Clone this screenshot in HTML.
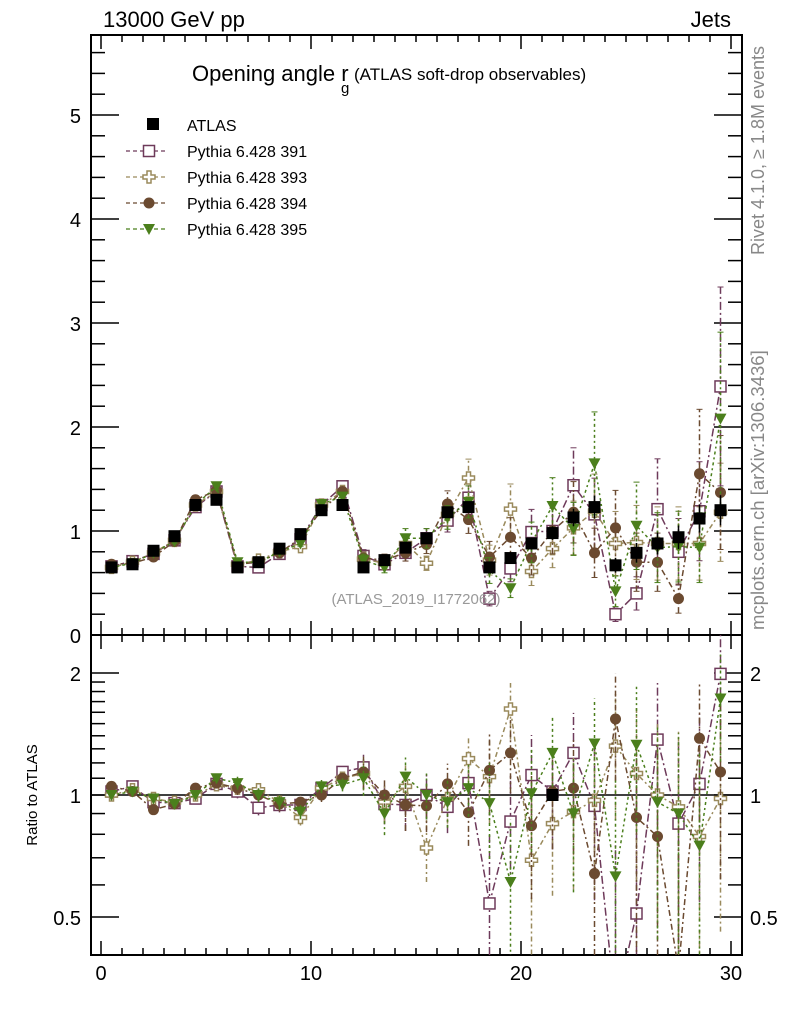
<!DOCTYPE html>
<html><head><meta charset="utf-8"><style>
html,body{margin:0;padding:0;background:#fff;width:786px;height:1024px;overflow:hidden;font-family:"Liberation Sans",sans-serif}
svg{display:block}
svg text{font-family:"Liberation Sans","DejaVu Sans",sans-serif}
</style></head><body>
<svg id="c" width="786" height="1024" xmlns="http://www.w3.org/2000/svg"></svg>
<script>
const bins=[0.5,1.5,2.5,3.5,4.5,5.5,6.5,7.5,8.5,9.5,10.5,11.5,12.5,13.5,14.5,15.5,16.5,17.5,18.5,19.5,20.5,21.5,22.5,23.5,24.5,25.5,26.5,27.5,28.5,29.5];
const atlas=[0.65,0.68,0.81,0.95,1.25,1.3,0.65,0.7,0.83,0.97,1.2,1.25,0.65,0.72,0.84,0.93,1.18,1.23,0.65,0.74,0.88,0.98,1.13,1.23,0.67,0.79,0.88,0.94,1.12,1.2];
const p391=[0.66,0.71,0.78,0.91,1.23,1.38,0.66,0.65,0.78,0.92,1.25,1.43,0.76,0.68,0.79,0.93,1.10,1.32,0.35,0.64,0.99,1.0,1.44,1.16,0.2,0.40,1.21,0.80,1.19,2.39];
const p393=[0.65,0.70,0.79,0.91,1.25,1.38,0.68,0.72,0.80,0.85,1.25,1.38,0.73,0.69,0.88,0.69,1.16,1.51,0.72,1.21,0.61,0.83,1.03,1.19,0.88,0.89,0.88,0.88,0.88,1.18];
const p394=[0.68,0.69,0.75,0.90,1.30,1.39,0.68,0.70,0.79,0.93,1.20,1.38,0.74,0.72,0.79,0.87,1.26,1.11,0.75,0.94,0.74,1.0,1.18,0.79,1.03,0.70,0.70,0.35,1.55,1.37];
const p395=[0.65,0.69,0.79,0.90,1.25,1.43,0.70,0.70,0.80,0.88,1.26,1.33,0.72,0.65,0.93,0.93,1.13,1.28,0.62,0.45,0.89,1.24,1.02,1.65,0.42,1.05,0.84,0.85,0.84,2.08];
const r391=[1.02,1.05,0.96,0.955,0.98,1.065,1.02,0.93,0.945,0.945,1.04,1.14,1.17,0.95,0.945,1.0,0.935,1.07,0.54,0.86,1.12,1.02,1.27,0.94,0.3,0.51,1.37,0.85,1.065,1.99];
const r393=[1.0,1.03,0.98,0.96,1.0,1.06,1.04,1.03,0.96,0.88,1.04,1.1,1.13,0.96,1.05,0.74,0.98,1.23,1.11,1.63,0.69,0.85,0.91,0.97,1.32,1.13,1.0,0.935,0.79,0.98];
const r394=[1.05,1.02,0.92,0.95,1.04,1.07,1.04,1.0,0.95,0.96,1.0,1.1,1.14,1.0,0.945,0.94,1.065,0.905,1.15,1.27,0.84,1.02,1.04,0.64,1.54,0.88,0.79,0.37,1.38,1.14];
const r395=[1.0,1.02,0.98,0.95,1.0,1.1,1.07,1.0,0.96,0.91,1.05,1.06,1.1,0.9,1.11,1.0,0.96,1.04,0.955,0.61,1.01,1.27,0.9,1.34,0.63,1.33,0.96,0.9,0.75,1.73];
const relErr=[0.02,0.02,0.02,0.02,0.02,0.02,0.03,0.03,0.03,0.03,0.03,0.03,0.08,0.08,0.1,0.1,0.1,0.12,0.2,0.2,0.22,0.22,0.25,0.3,0.35,0.4,0.4,0.4,0.4,0.4];
const xTicks=[0,10,20,30];
const yTicks=[0,1,2,3,4,5];
const rTicks=[0.5,1,2];

const svg=document.getElementById('c');
const NS='http://www.w3.org/2000/svg';
const L=91,R=742,T=35,M=635,B=955;
const X=v=>101+v*21;
const Y=v=>M-104*v;
const RY=r=>795-122*Math.log2(r);
function el(tag,a,parent){const e=document.createElementNS(NS,tag);for(const k in a)e.setAttribute(k,a[k]);(parent||svg).appendChild(e);return e;}
function txt(s,a,p){const e=el('text',a,p);e.textContent=s;return e;}

const defs=el('defs',{});
const c1=el('clipPath',{id:'cm'},defs);el('rect',{x:L,y:T,width:R-L,height:M-T},c1);
const c2=el('clipPath',{id:'cr'},defs);el('rect',{x:L,y:M,width:R-L,height:B-M},c2);

const f1=el('rect',{x:L,y:T,width:R-L,height:M-T,fill:'none',stroke:'#000','stroke-width':2});


const f2=el('rect',{x:L,y:M,width:R-L,height:B-M,fill:'none',stroke:'#000','stroke-width':2});



for(let v=0;v<=30;v++){const big=v%10==0,h=big?14:7;const x=X(v);
 for(const [y0,dir] of [[M,-1],[B,-1],[T,1],[M,1]]){el('line',{x1:x,x2:x,y1:y0,y2:y0+dir*h,stroke:'#000','stroke-width':1.5});}
}
xTicks.forEach(v=>{const t=txt(v,{x:X(v),y:980,'font-size':20,'text-anchor':'middle'});
 
 });
for(let i=0;i<=28;i++){const v=i*0.2;const big=i%5==0,h=big?28:14;const y=Y(v);if(y<T)continue;
 el('line',{x1:L,x2:L+h,y1:y,y2:y,stroke:'#000','stroke-width':1.5});el('line',{x1:R,x2:R-h,y1:y,y2:y,stroke:'#000','stroke-width':1.5});}
yTicks.forEach(v=>{const t=txt(v,{x:81,y:Y(v)+8,'font-size':20,'text-anchor':'end'});
 
 });
[0.5,0.6,0.7,0.8,0.9,1,1.1,1.2,1.3,1.4,1.5,1.6,1.7,1.8,1.9,2].forEach(r=>{const big=rTicks.includes(r),h=big?28:14;const y=RY(r);
 el('line',{x1:L,x2:L+h,y1:y,y2:y,stroke:'#000','stroke-width':1.5});el('line',{x1:R,x2:R-h,y1:y,y2:y,stroke:'#000','stroke-width':1.5});});
rTicks.forEach(r=>{const t=txt(r,{x:81,y:RY(r)+8,'font-size':20,'text-anchor':'end'});
 
 
 const t2=txt(r,{x:750,y:RY(r)+8,'font-size':20});
 
 });
el('line',{x1:L,x2:R,y1:RY(1),y2:RY(1),stroke:'#000','stroke-width':1.5});

function marker(g,kind,x,y,col){
 if(kind=='sq')el('rect',{x:x-6,y:y-6,width:12,height:12,fill:'#000'},g);
 else if(kind=='osq')el('rect',{x:x-5.5,y:y-5.5,width:11,height:11,fill:'#fff',stroke:col,'stroke-width':1.5},g);
 else if(kind=='cross')el('path',{d:`M${x-2} ${y-6}h4v4h4v4h-4v4h-4v-4h-4v-4h4z`,fill:'#fff',stroke:col,'stroke-width':1.5},g);
 else if(kind=='circ')el('circle',{cx:x,cy:y,r:5.5,fill:col},g);
 else if(kind=='tri')el('path',{d:`M${x-6} ${y-5}h12l-6 11z`,fill:col},g);
}
const series=[
 {name:'pythia-391',m:p391,r:r391,col:'#6e3a5a',kind:'osq',dash:'8,3,2,3'},
 {name:'pythia-393',m:p393,r:r393,col:'#9a8a5c',kind:'cross',dash:'5,3,2,3'},
 {name:'pythia-394',m:p394,r:r394,col:'#6b4a30',kind:'circ',dash:'6,3,2,3'},
 {name:'pythia-395',m:p395,r:r395,col:'#4b7f1c',kind:'tri',dash:'3,3,2,3'}];

series.forEach(s=>{
 const g=el('g',{'clip-path':'url(#cm)'});
 
 
 el('polyline',{points:bins.map((b,i)=>X(b)+','+Y(s.m[i])).join(' '),fill:'none',stroke:s.col,'stroke-width':1.5,'stroke-dasharray':s.dash},g);
 bins.forEach((b,i)=>{const e=s.m[i]*relErr[i];el('line',{x1:X(b),x2:X(b),y1:Y(s.m[i]-e),y2:Y(s.m[i]+e),stroke:s.col,'stroke-width':1.5,'stroke-dasharray':s.dash},g);
  el('line',{x1:X(b)-3,x2:X(b)+3,y1:Y(s.m[i]+e),y2:Y(s.m[i]+e),stroke:s.col},g);el('line',{x1:X(b)-3,x2:X(b)+3,y1:Y(s.m[i]-e),y2:Y(s.m[i]-e),stroke:s.col},g);
  marker(g,s.kind,X(b),Y(s.m[i]),s.col);});
 const g2=el('g',{'clip-path':'url(#cr)'});
 
 
 el('polyline',{points:bins.map((b,i)=>X(b)+','+RY(s.r[i])).join(' '),fill:'none',stroke:s.col,'stroke-width':1.5,'stroke-dasharray':s.dash},g2);
 bins.forEach((b,i)=>{const e=relErr[i]*1.3;const lo=Math.max(s.r[i]-e,0.05);el('line',{x1:X(b),x2:X(b),y1:RY(lo),y2:RY(s.r[i]+e),stroke:s.col,'stroke-width':1.5,'stroke-dasharray':s.dash},g2);
  marker(g2,s.kind,X(b),RY(s.r[i]),s.col);});
});
const ga=el('g',{'clip-path':'url(#cm)'});


bins.forEach((b,i)=>{const e=atlas[i]*relErr[i]*0.3;el('line',{x1:X(b),x2:X(b),y1:Y(atlas[i]-e),y2:Y(atlas[i]+e),stroke:'#000','stroke-width':1.5},ga);marker(ga,'sq',X(b),Y(atlas[i]),'#000');});
const gr=el('g',{'clip-path':'url(#cr)'});


marker(gr,'sq',X(21.5),RY(1),'#000');

let t;
t=txt('13000 GeV pp',{x:103,y:27,'font-size':22});
t=txt('Jets',{x:731,y:27,'font-size':22,'text-anchor':'end'});
t=txt('Opening angle r',{x:192,y:81,'font-size':22});
txt('g',{x:341,y:93,'font-size':15});
txt('(ATLAS soft-drop observables)',{x:354,y:80,'font-size':17});
t=txt('(ATLAS_2019_I1772062)',{x:416,y:604,'font-size':15,fill:'#999','text-anchor':'middle'});
t=txt('Rivet 4.1.0, \u2265 1.8M events',{x:0,y:0,'font-size':18,fill:'#888',transform:'translate(764,255) rotate(-90)'});
t=txt('mcplots.cern.ch [arXiv:1306.3436]',{x:0,y:0,'font-size':18.5,fill:'#888',transform:'translate(764,630) rotate(-90)'});
t=txt('Ratio to ATLAS',{x:0,y:0,'font-size':15,'text-anchor':'middle',transform:'translate(37,795) rotate(-90)'});

const lg=el('g',{});


marker(lg,'sq',153,124,'#000');txt('ATLAS',{x:187,y:131,'font-size':16},lg);
series.forEach((s,i)=>{const y=151+i*26;
 el('line',{x1:126,x2:168,y1:y,y2:y,stroke:s.col,'stroke-width':1.3,'stroke-dasharray':'4,3'},lg);
 marker(lg,s.kind,149,y,s.col);
 txt('Pythia 6.428 '+s.name.slice(-3),{x:187,y:y+6,'font-size':16},lg);});
</script>
</body></html>
